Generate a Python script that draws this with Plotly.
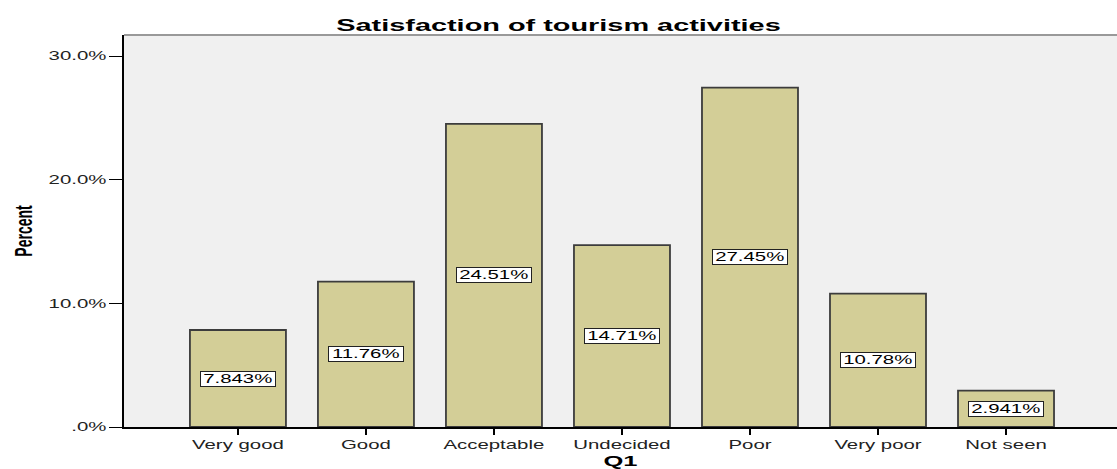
import plotly.graph_objects as go

# Survey response categories and their percentages
categories = ["Very good", "Good", "Acceptable", "Undecided", "Poor", "Very poor", "Not seen"]
percents = [7.843, 11.76, 24.51, 14.71, 27.45, 10.78, 2.941]
label_texts = ["7.843%", "11.76%", "24.51%", "14.71%", "27.45%", "10.78%", "2.941%"]
y_tick_vals = [0, 10, 20, 30]
y_tick_text = [".0%", "10.0%", "20.0%", "30.0%"]

FONT = "Liberation Sans, Arial, sans-serif"

fig = go.Figure()
fig.add_trace(go.Bar(
    x=list(range(len(categories))),
    y=percents,
    width=0.75,
    marker=dict(color="#D3CE97", line=dict(color="#3c3c3c", width=1.8)),
    hoverinfo="skip",
))

# Value labels in white boxes, centred within each bar
for i, (v, t) in enumerate(zip(percents, label_texts)):
    fig.add_annotation(
        x=i, y=v / 2, text=t, showarrow=False,
        font=dict(family=FONT, size=12, color="black"),
        width=72, height=12, align="center",
        bgcolor="white", bordercolor="#222222", borderwidth=1, borderpad=1,
    )

# Top border of the plot region
fig.add_shape(type="line", xref="paper", yref="paper", x0=0, x1=1, y0=1, y1=1,
              line=dict(color="#999999", width=2))

fig.update_layout(
    width=1117, height=469,
    margin=dict(l=124, r=0, t=35, b=42),
    paper_bgcolor="white",
    plot_bgcolor="#F0F0F0",
    showlegend=False,
    title=dict(text="<b>Satisfaction of tourism activities</b>", x=0.5, xanchor="center",
               y=0.947, yanchor="middle",
               font=dict(family=FONT, size=17, color="black")),
    xaxis=dict(
        range=[-0.89, 6.867],
        tickmode="array", tickvals=list(range(len(categories))), ticktext=categories,
        ticks="outside", ticklen=6, tickcolor="black", tickwidth=2,
        showgrid=False, zeroline=False,
        showline=True, linecolor="black", linewidth=1.5,
        tickfont=dict(family=FONT, size=12, color="#222"),
        title=dict(text="<b>Q1</b>", font=dict(family=FONT, size=15, color="black"), standoff=6),
        fixedrange=True,
    ),
    yaxis=dict(
        range=[0, 31.7],
        tickmode="array", tickvals=y_tick_vals, ticktext=y_tick_text,
        ticks="outside", ticklen=13, tickcolor="black", tickwidth=1.2,
        showgrid=False, zeroline=False,
        showline=True, linecolor="black", linewidth=2,
        tickfont=dict(family=FONT, size=12, color="#222"),
        title=dict(text="<b>Percent</b>",
                   font=dict(family=FONT, size=14, color="black"),
                   standoff=40),
        fixedrange=True,
    ),
)

# Widen all text horizontally (wide glyph style), keeping each label's anchor in place
stretch_js = """
(function(){
  var gd = document.getElementById('{plot_id}');
  var K = 1.7;
  function stretch(){
    gd.querySelectorAll('text').forEach(function(el){
      if(!el.textContent) return;
      var orig = el.getAttribute('data-otf');
      if(orig === null){ orig = el.getAttribute('transform') || ''; el.setAttribute('data-otf', orig); }
      var b = el.getBBox();
      var s;
      if(el.classList.contains('ytitle')){
        var cy = b.y + b.height/2;
        s = 'translate(0,'+cy+') scale(1,'+K+') translate(0,'+(-cy)+')';
      } else {
        var a = el.getAttribute('text-anchor');
        var ax = a === 'end' ? b.x + b.width : (a === 'start' ? b.x : b.x + b.width/2);
        s = 'translate('+ax+',0) scale('+K+',1) translate('+(-ax)+',0)';
      }
      el.setAttribute('transform', (orig + ' ' + s).trim());
    });
  }
  stretch();
  gd.on('plotly_afterplot', stretch);
})();
"""

fig.write_html("out.html", post_script=stretch_js, config={"displayModeBar": False})
